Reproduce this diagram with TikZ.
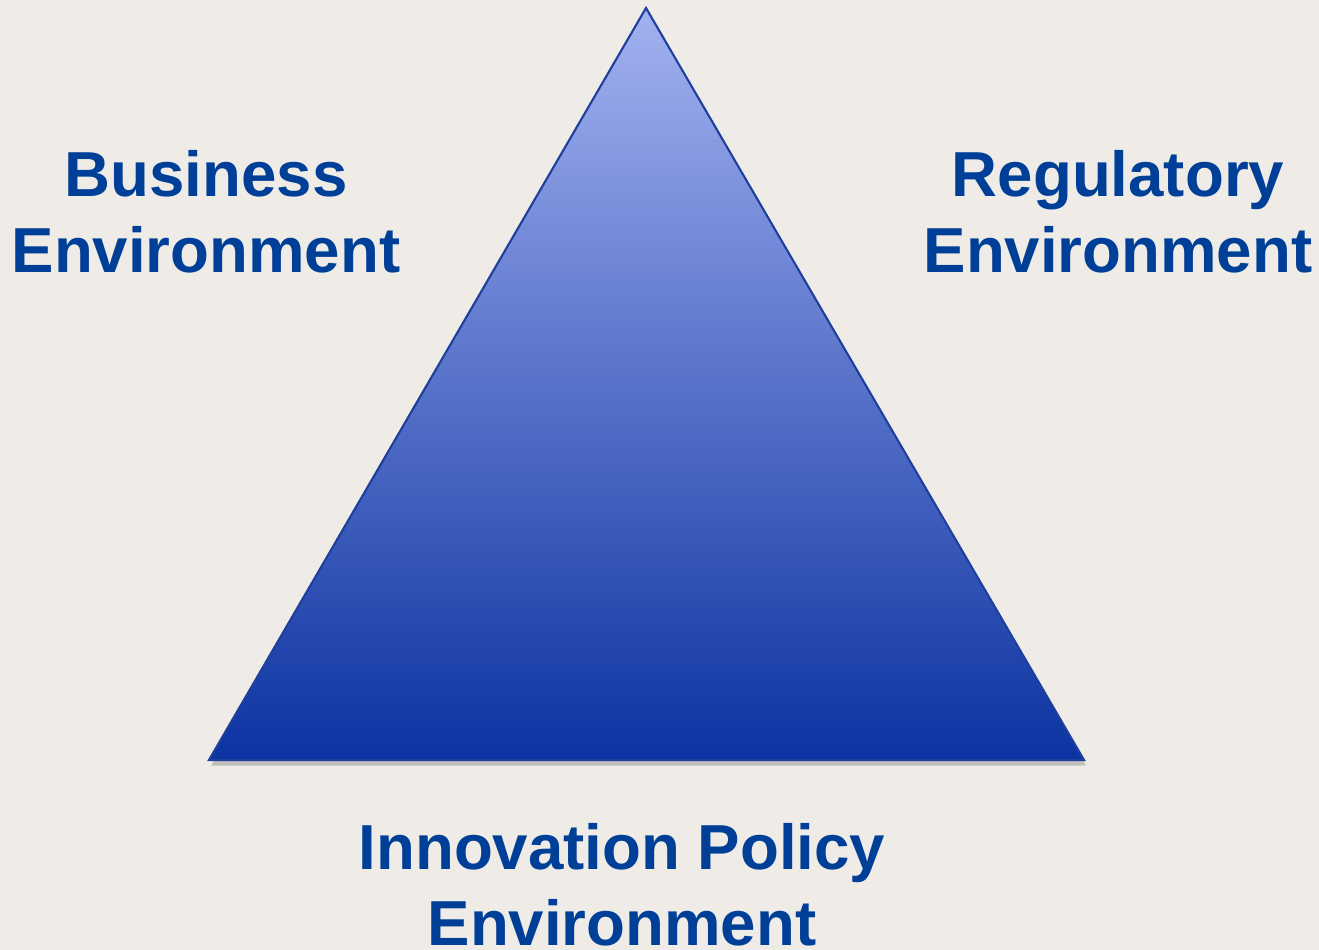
\documentclass[tikz,border=0pt]{standalone}
\usepackage{fontspec}
\setmainfont{Liberation Sans}
\usepackage{tikz}
\usetikzlibrary{shadows}

\definecolor{paper}{HTML}{EFECE7}
\definecolor{labelblue}{HTML}{003F98}
\definecolor{pyrtop}{HTML}{A3B1F0}
\definecolor{pyrmid}{HTML}{8A97DA}
\definecolor{pyrbot}{HTML}{0C33A2}
\definecolor{pyredge}{HTML}{1E3F9C}

\begin{document}
\begin{tikzpicture}
    \tikzstyle{envlabel} = [anchor=base, align=center, inner sep=0pt, text=labelblue,
        font=\fontsize{18.1pt}{21.9pt}\selectfont\bfseries]
    \tikzstyle{pyramid} = [draw=pyredge, line width=0.6pt, top color=pyrtop, middle color=pyrmid,
        bottom color=pyrbot, drop shadow={shadow xshift=0.6pt, shadow yshift=-1.6pt, opacity=0.4}]

    % Background
    \fill[paper] (0,0) rectangle (13.19,9.5);
    \useasboundingbox (0,0) rectangle (13.19,9.5);

    % Corners of the triangle
    \coordinate (apex) at (6.46,9.42);
    \coordinate (left) at (2.09,1.90);
    \coordinate (right) at (10.84,1.90);

    % The triangle
    \path[pyramid] (apex) -- (right) -- (left) -- cycle;

    % Labels (anchored at the baseline of the last line)
    \node[envlabel] (bizenv) at (2.06,6.77) {Business\\Environment};
    \node[envlabel] (regenv) at (11.18,6.77) {Regulatory\\Environment};
    \node[envlabel] (innovenv) at (6.22,0.04) {Innovation Policy\\Environment};

\end{tikzpicture}
\end{document}
